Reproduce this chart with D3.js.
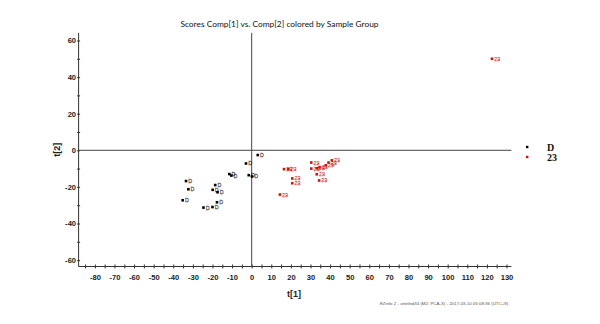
<!DOCTYPE html>
<html>
<head>
<meta charset="utf-8">
<script src="https://cdn.jsdelivr.net/npm/d3@7"></script>
<style>
html,body{margin:0;padding:0;background:#fff;}
svg{display:block;}
</style>
</head>
<body>
<svg id="chart" width="600" height="324"></svg>
<script>
// ---- data ----
const groups = ["D", "23"];
const groupColors = ["#000000", "#cc1111"];
const dX = [3.1, -2.9, -11.4, -10.4, -1.5, 0.15, -33.5, -18.6, -32.3, -19.9, -17.4, -35.2, -17.7, -24.6, -20.0];
const dY = [-2.6, -7.2, -13.0, -13.8, -13.6, -14.3, -16.8, -19.0, -21.3, -21.6, -22.9, -27.3, -28.4, -31.3, -31.0];
const gX = [16.5, 18.7, 20.7, 20.7, 14.4, 30.4, 30.4, 33.2, 34.6, 33.2, 34.4, 37.8, 39.2, 40.9, 122.6];
const gY = [-10.3, -10.3, -15.4, -18.0, -24.2, -6.7, -10.0, -9.8, -9.3, -13.1, -16.5, -8.2, -6.7, -5.5, 50.0];
const xTicks = d3.range(-85, 135, 5);
const xTickLabels = d3.range(-80, 140, 10);
const yTicks = d3.range(-60, 70, 10);
const yTickLabels = [-60, -40, -20, 0, 20, 40, 60];
const titleText = "Scores Comp[1] vs. Comp[2] colored by Sample Group";
const xTitle = "t[1]";
const yTitle = "t[2]";
const footerText = "EZinfo 2 - untitled34 (M2: PCA-X) - 2017-03-10 05:08:36 (UTC+8)";

// ---- layout ----
const svg = d3.select("#chart");
const x = d3.scaleLinear().domain([-88.3, 132.5]).range([78.6, 511.4]);
const y = d3.scaleLinear().domain([-63.5, 64.2]).range([266.5, 32.8]);

svg.append("rect").attr("width", 600).attr("height", 324).attr("fill", "#fff");

// title
svg.append("text").attr("x", 279.5).attr("y", 27)
  .attr("text-anchor", "middle")
  .attr("font-family", "Lato, 'Open Sans', sans-serif")
  .attr("font-size", 8.4).attr("fill", "#111")
  .text(titleText);

// axes
const xAxis = d3.axisBottom(x).tickValues(xTicks).tickSize(2)
  .tickFormat(d => xTickLabels.includes(d) ? d : "");
const gx = svg.append("g").attr("transform", `translate(0,${y.range()[0]})`).call(xAxis);
gx.select(".domain").attr("stroke", "#333").attr("d", `M${x.range()[0]},0H${x.range()[1]}`);
gx.selectAll(".tick line").attr("y1", -2).attr("y2", 2).attr("stroke", "#333");
gx.selectAll(".tick text").attr("y", 8).attr("dy", "0.71em")
  .attr("font-family", "'Liberation Sans', Arial, sans-serif").attr("font-weight", "bold")
  .attr("font-size", 7.6).attr("fill", "#222");

const yAxis = d3.axisLeft(y).tickValues(yTicks).tickSize(2)
  .tickFormat(d => yTickLabels.includes(d) ? d : "");
const gy = svg.append("g").attr("transform", `translate(${x.range()[0]},0)`).call(yAxis);
gy.select(".domain").attr("stroke", "#333").attr("d", `M0,${y.range()[0]}V${y.range()[1]}`);
gy.selectAll(".tick line").attr("x1", -1.5).attr("x2", 1.5).attr("stroke", "#333");
gy.selectAll(".tick text").attr("x", -2.5)
  .attr("font-family", "'Liberation Sans', Arial, sans-serif").attr("font-weight", "bold")
  .attr("font-size", 7.6).attr("fill", "#222");
svg.selectAll(".domain, .tick line").attr("stroke-width", 1);

// zero lines
svg.append("line").attr("x1", x.range()[0]).attr("x2", x.range()[1])
  .attr("y1", y(0)).attr("y2", y(0)).attr("stroke", "#444").attr("stroke-width", 1);
svg.append("line").attr("x1", x(0)).attr("x2", x(0))
  .attr("y1", y.range()[1]).attr("y2", y.range()[0]).attr("stroke", "#444").attr("stroke-width", 1);

// axis titles
svg.append("text").attr("x", 294).attr("y", 297).attr("text-anchor", "middle")
  .attr("font-family", "'Liberation Sans', Arial, sans-serif").attr("font-weight", "bold")
  .attr("font-size", 9).attr("fill", "#222").text(xTitle);
svg.append("text").attr("transform", `translate(60,${(y.range()[0] + y.range()[1]) / 2}) rotate(-90)`)
  .attr("text-anchor", "middle")
  .attr("font-family", "'Liberation Sans', Arial, sans-serif").attr("font-weight", "bold")
  .attr("font-size", 9).attr("fill", "#222").text(yTitle);

// points
const series = [
  {name: groups[0], color: groupColors[0], xs: dX, ys: dY},
  {name: groups[1], color: groupColors[1], xs: gX, ys: gY}
];
series.forEach(s => {
  const pts = s.xs.map((v, i) => ({x: v, y: s.ys[i]}));
  const g = svg.append("g");
  g.selectAll("rect").data(pts).enter().append("rect")
    .attr("x", d => x(d.x) - 1.3).attr("y", d => y(d.y) - 1.3)
    .attr("width", 2.6).attr("height", 2.6).attr("fill", s.color);
  g.selectAll("text").data(pts).enter().append("text")
    .attr("x", d => x(d.x) + 2.2).attr("y", d => y(d.y) + 2)
    .attr("font-family", "'Liberation Sans', Arial, sans-serif")
    .attr("font-size", 5.4).attr("fill", "none").attr("stroke", s.color)
    .attr("stroke-width", 0.35).attr("stroke-opacity", 0.8)
    .text(s.name);
});

// legend
series.forEach((s, i) => {
  const ly = 147 + i * 10;
  svg.append("rect").attr("x", 526).attr("y", ly - 1.2).attr("width", 2.4).attr("height", 2.4).attr("fill", s.color);
  svg.append("text").attr("x", 547).attr("y", ly + 3.5)
    .attr("font-family", "'Liberation Serif', 'Times New Roman', serif").attr("font-weight", "bold")
    .attr("font-size", 10).attr("fill", "#111").text(s.name);
});

// footer
svg.append("text").attr("x", 444).attr("y", 304.5).attr("text-anchor", "middle")
  .attr("font-family", "'Liberation Sans', Arial, sans-serif")
  .attr("font-size", 4.4).attr("fill", "#555").text(footerText);
</script>
</body>
</html>
